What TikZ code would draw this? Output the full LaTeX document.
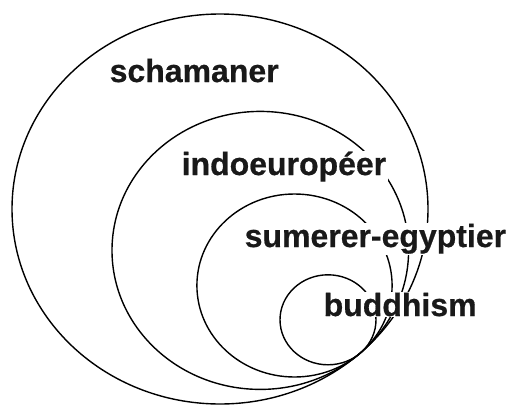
\documentclass[tikz,border=0pt]{standalone}
\usepackage{fontspec}
\setmainfont{Liberation Sans}[FakeBold=0.6]
\begin{document}
\begin{tikzpicture}[x=1pt,y=-1pt,
  ring/.style={draw=black,line width=1.4pt},
  lbl/.style={fill=white,inner xsep=1.5pt,inner ysep=1pt,anchor=base west,font=\fontsize{32}{32}\selectfont\bfseries,text=black!90}]
\useasboundingbox (0,0) rectangle (517,407);
\draw[ring] (220,209) ellipse [x radius=208, y radius=195];
\draw[ring] (260.3,250.4) ellipse [x radius=148.3, y radius=139];
\draw[ring] (294.5,285.5) ellipse [x radius=97.6, y radius=91.5];
\draw[ring] (328,319.8) ellipse [x radius=48, y radius=45];
\node[lbl] (s) at (108,82) {schamaner};
\node[lbl] (i) at (180,175) {indoeuropéer};
\node[lbl] (e) at (243,247) {sumerer-egyptier};
\node[lbl] (b) at (322,316) {buddhism};
\end{tikzpicture}
\end{document}
